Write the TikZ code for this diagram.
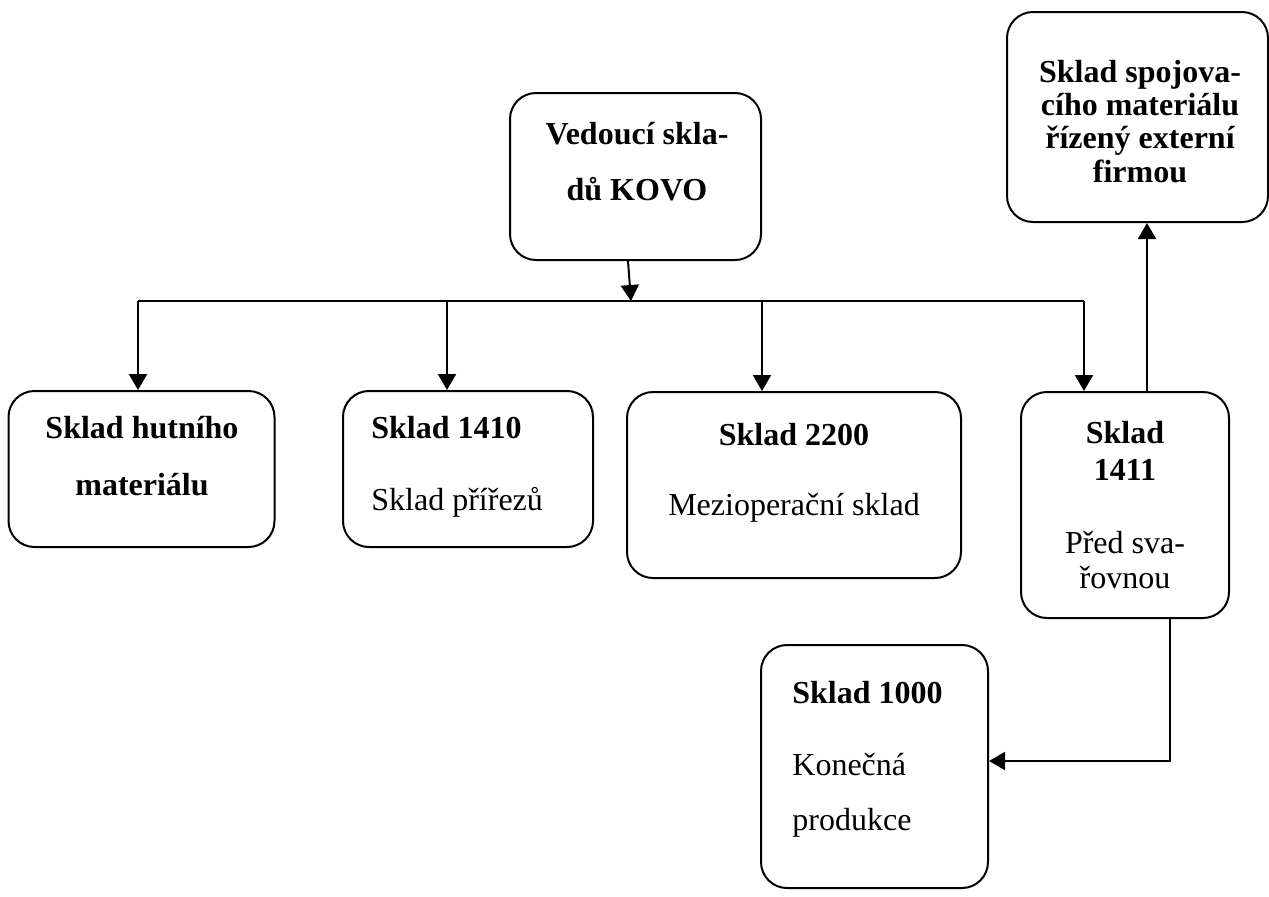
\documentclass[tikz,border=0pt]{standalone}
\usepackage{fontspec}
\setmainfont{Liberation Serif}
\usetikzlibrary{arrows.meta}
\tikzset{
  box/.style={draw, line width=1pt, rounded corners=13pt, inner sep=0pt},
  arr/.style={line width=1pt, -{Triangle[length=8pt,width=9pt]}},
  conn/.style={line width=1pt},
  bt/.style={font=\fontsize{16}{19}\selectfont\bfseries, inner sep=0pt, anchor=base},
  rt/.style={font=\fontsize{16}{19}\selectfont, inner sep=0pt, anchor=base},
}
\begin{document}
\begin{tikzpicture}[x=0.5pt,y=-0.5pt]
\useasboundingbox (0,0) rectangle (1269,896);
% boxes
\node[box, minimum width=125.5pt, minimum height=83.5pt] (b1) at (635.5,176.5) {};
\node[box, minimum width=130.5pt, minimum height=105pt] (b2) at (1137.5,117) {};
\node[box, minimum width=133pt, minimum height=78pt] (b3) at (141.5,469) {};
\node[box, minimum width=125pt, minimum height=78pt] (b4) at (468,469) {};
\node[box, minimum width=167pt, minimum height=93pt] (b5) at (794,485) {};
\node[box, minimum width=104pt, minimum height=113pt] (b6) at (1125,505) {};
\node[box, minimum width=113.5pt, minimum height=121.5pt] (b7) at (874.5,766.5) {};
% texts
\node[bt] (t1a) at (637,144) {Vedoucí skla-};
\node[bt] (t1b) at (637,200) {dů KOVO};
\node[bt] (t2a) at (1140,82) {Sklad spojova-};
\node[bt] (t2b) at (1140,115) {cího materiálu};
\node[bt] (t2c) at (1140,148) {řízený externí};
\node[bt] (t2d) at (1140,182) {firmou};
\node[bt] (t3a) at (142,438) {Sklad hutního};
\node[bt] (t3b) at (142,495) {materiálu};
\node[bt, anchor=base west] (t4a) at (371,438) {Sklad 1410};
\node[rt, anchor=base west] (t4b) at (371,510) {Sklad přířezů};
\node[bt] (t5a) at (794,445) {Sklad 2200};
\node[rt] (t5b) at (794,515) {Mezioperační sklad};
\node[bt] (t6a) at (1125,443) {Sklad};
\node[bt] (t6b) at (1125,480) {1411};
\node[rt] (t6c) at (1125,553) {Před sva-};
\node[rt] (t6d) at (1125,588) {řovnou};
\node[bt, anchor=base west] (t7a) at (792,703) {Sklad 1000};
\node[rt, anchor=base west] (t7b) at (792,775) {Konečná};
\node[rt, anchor=base west] (t7c) at (792,830) {produkce};
% connectors
\coordinate (c1) at (631,301);
\coordinate (h1) at (138,301);
\coordinate (h2) at (447,301);
\coordinate (h3) at (762,301);
\coordinate (h4) at (1084,301);
\draw[arr] ([xshift=-3.75pt]b1.south) -- (c1);
\draw[conn] (h1) -- (h4);
\draw[arr] (h1) -- (h1 |- b3.north);
\draw[arr] (h2) -- (h2 |- b4.north);
\draw[arr] (h3) -- (h3 |- b5.north);
\draw[arr] (h4) -- (h4 |- b6.north);
\coordinate (u1) at ([xshift=11pt]b6.north);
\draw[arr] (u1) -- (u1 |- b2.south);
\coordinate (d1) at ([xshift=22.5pt]b6.south);
\coordinate (e7) at ([yshift=2.75pt]b7.east);
\draw[arr] (d1) |- (e7);
\end{tikzpicture}
\end{document}
